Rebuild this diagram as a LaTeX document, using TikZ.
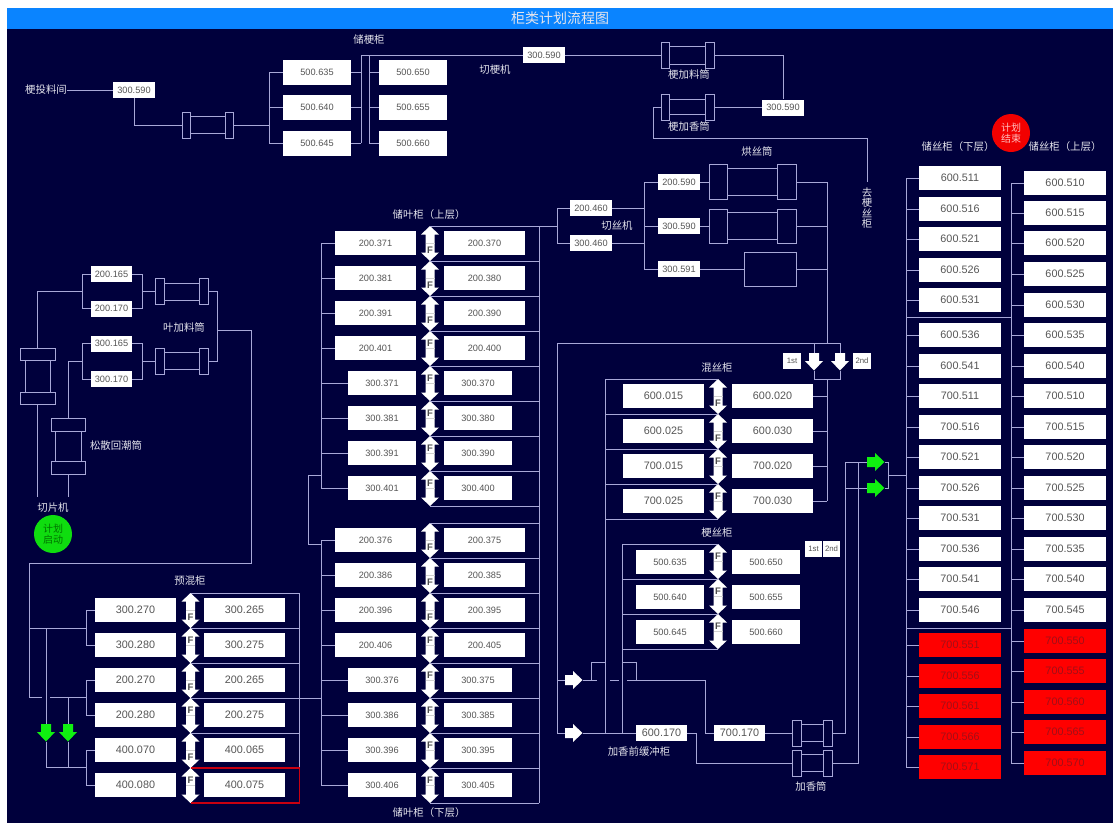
\documentclass[tikz,border=0pt]{standalone}
\usepackage{fontspec}
\setmainfont{Liberation Sans}
\newfontfamily\cjk{Noto Sans CJK SC}
\definecolor{navy}{HTML}{00003C}
\definecolor{barblue}{HTML}{0A84FF}
\definecolor{lnc}{HTML}{A8A8D8}
\definecolor{numc}{HTML}{555555}
\definecolor{labc}{HTML}{E4E4EC}
\definecolor{redtxt}{HTML}{A01018}
\definecolor{redln}{HTML}{C80010}
\definecolor{grn}{HTML}{10F010}
\tikzset{
  ln/.style={draw=lnc,line width=1pt},
  lab/.style={text=labc,inner sep=0pt,align=center,font=\cjk\fontsize{10.4}{10.6}\selectfont},
  smallbox/.style={fill=white,inner sep=0pt,text=numc,font=\fontsize{9.2}{10}\selectfont},
  midbox/.style={fill=white,inner sep=0pt,text=numc,font=\fontsize{10.8}{12}\selectfont},
  tinybox/.style={fill=white,inner sep=0pt,text=numc,font=\fontsize{7.8}{9}\selectfont},
  ftxt/.style={inner sep=0pt,text=black!70,font=\bfseries\fontsize{9.5}{10}\selectfont},
}
% style, name, x1, x2, cy, h, text
\newcommand\myBox[7]{\node[#1,minimum width={#4-#3},minimum height=#6] (#2) at ({(#3+#4)/2},#5) {#7};}
% name, x, top, F offset
\newcommand\myDbl[4]{%
  \coordinate (#1-t) at (#2,#3);
  \coordinate (#1-b) at (#2,{#3+35});
  \fill[white] (#2,#3) -- ++(9,8.5) -- ++(-4.5,0) -- ++(0,18) -- ++(4.5,0) -- ++(-9,8.5) -- ++(-9,-8.5) -- ++(4.5,0) -- ++(0,-18) -- ++(-4.5,0) -- cycle;
  \draw[black!18,line width=.7pt] ({#2-4.5},{#3+17.5}) -- ({#2+4.5},{#3+17.5});
  \node[ftxt] (#1-F) at (#2,{#3+#4}) {F};}
% name, cx, top, colour
\newcommand\myDown[4]{%
  \coordinate (#1-in) at (#2,#3);
  \coordinate (#1-out) at (#2,{#3+17.5});
  \fill[#4] ({#2-5},#3) -- ++(10,0) -- ++(0,8) -- ++(4,0) -- ++(-9,9.5) -- ++(-9,-9.5) -- ++(4,0) -- cycle;}
% name, left, cy, colour
\newcommand\myRight[4]{%
  \coordinate (#1-in) at (#2,#3);
  \coordinate (#1-out) at ({#2+17.5},#3);
  \fill[#4] (#2,{#3-5}) -- ++(0,10) -- ++(8,0) -- ++(0,4) -- ++(9.5,-9) -- ++(-9.5,-9) -- ++(0,4) -- cycle;}
% name, x1,x2,x3,x4, captop,capbot, bodytop,bodybot
\newcommand\myHDrum[9]{%
  \coordinate (#1-w) at (#2,{(#6+#7)/2});
  \coordinate (#1-e) at (#5,{(#6+#7)/2});
  \draw[ln] (#2,#6) rectangle (#3,#7);
  \draw[ln] (#4,#6) rectangle (#5,#7);
  \draw[ln] (#3,#8) -- (#4,#8) (#3,#9) -- (#4,#9);}
% name, capx1,capx2,bodyx1,bodyx2, y1,y2,y3,y4
\newcommand\myVDrum[9]{%
  \coordinate (#1-n) at ({(#2+#3)/2},#6);
  \coordinate (#1-s) at ({(#2+#3)/2},#9);
  \draw[ln] (#2,#6) rectangle (#3,#7);
  \draw[ln] (#2,#8) rectangle (#3,#9);
  \draw[ln] (#4,#7) -- (#4,#8) (#5,#7) -- (#5,#8);}
\begin{document}
\begin{tikzpicture}[x=1pt,y=-1pt]
\useasboundingbox (0,0) rectangle (1113,823);
\fill[white] (0,0) rectangle (1113,823);
\fill[navy] (7,8) rectangle (1113,823);
\fill[barblue] (7,8) rectangle (1113,28.5);
\node[text=labc,inner sep=0pt,font=\cjk\fontsize{14}{14}\selectfont] (title) at (560,18) {柜类计划流程图};

% ---- labels
\node[lab] (lTou) at (46,90) {梗投料间};
\node[lab] (lChu) at (369,40) {储梗柜};
\node[lab] (lQie) at (495,70) {切梗机};
\node[lab] (lJl) at (689,75) {梗加料筒};
\node[lab] (lJx) at (689,127) {梗加香筒};
\node[lab] (lHong) at (757,152) {烘丝筒};
\node[lab] (lQs) at (617,226) {切丝机};
\node[lab] (lQu) at (867,208) {去\\梗\\丝\\柜};
\node[lab] (lUp) at (429,215) {储叶柜（上层）};
\node[lab] (lDn) at (429,813) {储叶柜（下层）};
\node[lab] (lYe) at (184,328) {叶加料筒};
\node[lab] (lSong) at (116,446) {松散回潮筒};
\node[lab] (lQp) at (53,508) {切片机};
\node[lab] (lYu) at (190,581) {预混柜};
\node[lab] (lHun) at (717,368) {混丝柜};
\node[lab] (lGs) at (717,533) {梗丝柜};
\node[lab] (lJq) at (639,752) {加香前缓冲柜};
\node[lab] (lJt) at (811,787) {加香筒};
\node[lab] (lSl) at (958,147) {储丝柜（下层）};
\node[lab] (lSu) at (1065,147) {储丝柜（上层）};
\node[circle,fill=grn!92!black,minimum size=38pt,inner sep=0pt,text=green!45!black,align=center,font=\cjk\fontsize{10}{11}\selectfont] (cStart) at (53,534) {计划\\启动};
\node[circle,fill=red!95!black,minimum size=38pt,inner sep=0pt,text=red!25!white,align=center,font=\cjk\fontsize{10}{11}\selectfont] (cEnd) at (1011,133) {计划\\结束};

% ---- top section
\myBox{smallbox}{tA}{113}{155}{90}{16}{300.590}
\myBox{smallbox}{tB}{523}{565}{55}{16}{300.590}
\myBox{smallbox}{tC}{762}{804}{107.5}{16}{300.590}
\foreach \i/\t/\y in {1/500.635/72.5,2/500.640/107.5,3/500.645/143}{
  \myBox{smallbox}{sL\i}{283}{351}{\y}{25}{\t}}
\foreach \i/\t/\y in {1/500.650/72.5,2/500.655/107.5,3/500.660/143}{
  \myBox{smallbox}{sR\i}{379}{447}{\y}{25}{\t}}
\myHDrum{dA}{182}{190}{225}{233}{112}{138}{116.5}{133.5}
\myHDrum{dB}{661}{669}{705}{714}{42}{68}{46}{64}
\myHDrum{dC}{661}{669}{705}{714}{94.5}{120.5}{99}{114}
\coordinate (busT) at (269,125);
\coordinate (busU) at (361,55);
\coordinate (busV) at (369,55);
\coordinate (cA) at (653,138);
\draw[ln] (lTou.east) -- (tA.west);
\draw[ln] (tA.south) |- (dA-w);
\draw[ln] (dA-e) -- (busT);
\draw[ln] (sL1.west -| busT) -- (sL3.west -| busT);
\foreach \i in {1,2,3}{
  \draw[ln] (sL\i.west) -- (sL\i.west -| busT);
  \draw[ln] (sL\i.east) -- (sL\i.east -| busU);
  \draw[ln] (sR\i.west) -- (sR\i.west -| busV);}
\draw[ln] (sL3.east -| busU) -- (busU);
\draw[ln] (sR3.west -| busV) -- (busV);
\draw[ln] (busU) -- (tB.west);
\draw[ln] (tB.east) -- (dB-w);
\draw[ln] (dB-e) -| (tC.north);
\draw[ln] (tC.west) -- (dC-e);
\draw[ln,shorten >=5pt] (dC-w) -| (cA) -| (lQu.north);

% ---- leaf feed section (left)
\myBox{smallbox}{fA}{91}{132}{274}{16}{200.165}
\myBox{smallbox}{fB}{91}{132}{308.5}{16}{200.170}
\myBox{smallbox}{fC}{91}{132}{343.5}{16}{300.165}
\myBox{smallbox}{fD}{91}{132}{379}{16}{300.170}
\myHDrum{dF1}{155}{164}{199}{208}{278.5}{304.5}{283}{300}
\myHDrum{dF2}{155}{164}{199}{208}{348.5}{374.5}{352.5}{369.5}
\myVDrum{dV1}{20}{55}{25}{50}{348}{360}{392}{404}
\myVDrum{dV2}{51}{85}{55}{81}{418}{431}{461}{474}
\coordinate (busF) at (82,291.5);
\coordinate (busG) at (82,361.5);
\coordinate (busH) at (142.5,291.5);
\coordinate (busI) at (142.5,361.5);
\coordinate (busJ) at (217,330.5);
\coordinate (feedA) at (251.5,563);
\coordinate (feedB) at (29,697);
\coordinate (feedC) at (42,697);
\coordinate (endY) at (0,497);
\draw[ln] (fA.west -| busF) -- (fB.west -| busF);
\draw[ln] (fC.west -| busG) -- (fD.west -| busG);
\draw[ln] (fA.east -| busH) -- (fB.east -| busH);
\draw[ln] (fC.east -| busI) -- (fD.east -| busI);
\foreach \n in {fA,fB}{\draw[ln] (\n.west) -- (\n.west -| busF); \draw[ln] (\n.east) -- (\n.east -| busH);}
\foreach \n in {fC,fD}{\draw[ln] (\n.west) -- (\n.west -| busG); \draw[ln] (\n.east) -- (\n.east -| busI);}
\draw[ln] (busH) -- (dF1-w);
\draw[ln] (busI) -- (dF2-w);
\draw[ln] (dF1-e) -- (dF1-e -| busJ) -- (dF2-e -| busJ) -- (dF2-e);
\draw[ln] (busF) -| (dV1-n);
\draw[ln] (busG) -| (dV2-n);
\draw[ln] (dV1-s) -- (dV1-s |- endY);
\draw[ln] (dV2-s) -- (dV2-s |- endY);
\draw[ln] (busJ) -| (feedA) -- (feedA -| feedB) -- (feedB) -- (feedC);

% ---- prewet section
\foreach \i/\a/\b/\y/\f in {1/300.270/300.265/610/24,2/300.280/300.275/645/12,3/200.270/200.265/680/24,4/200.280/200.275/715/12,5/400.070/400.065/750/24,6/400.080/400.075/785/12}{
  \myBox{midbox}{pL\i}{95}{176}{\y}{24.5}{\a}
  \myBox{midbox}{pR\i}{204}{285}{\y}{24.5}{\b}
  \myDbl{pa\i}{190.5}{\the\numexpr\y-17\relax}{\f}}
\coordinate (busP) at (299.5,593);
\coordinate (busK) at (86,628);
\coordinate (busA) at (321,243);
\foreach \i in {1,...,5}{\draw[ln] (pa\i-t) -- (pa\i-t -| busP);}
\draw[ln] (busP) -- (pa6-t -| busP);
\draw[redln,line width=1.1pt] (pa6-t) -- (pa6-t -| busP) -- (pa6-b -| busP) -- (pa6-b);
\draw[ln] (pa4-t -| busP) -- (pa4-t -| busA);
\foreach \u/\v in {1/2,3/4,5/6}{
  \draw[ln] (pL\u.west -| busK) -- (pL\v.west -| busK);
  \draw[ln] (pL\u.west) -- (pL\u.west -| busK);
  \draw[ln] (pL\v.west) -- (pL\v.west -| busK);}
\coordinate (feedD) at (29,628);
\coordinate (feedE) at (50,697);
\coordinate (gJoin) at (46,767);
\coordinate (gJoinB) at (68,767);
\draw[ln] (feedD) -- (busK);
\draw[ln] (feedE) -- (feedE -| busK);
\myDown{gA}{46}{724}{grn}
\myDown{gB}{68}{724}{grn}
\draw[ln] (feedD -| gA-in) -- (gA-in);
\draw[ln] (feedE -| gB-in) -- (gB-in);
\draw[ln] (gA-out) -- (gJoin) -- (gJoin -| busK);
\draw[ln] (gB-out) -- (gJoinB);

% ---- leaf store section
\foreach \i/\a/\b/\y/\f in {1/200.371/200.370/243/24,2/200.381/200.380/278/24,3/200.391/200.390/313/24,4/200.401/200.400/348/12,9/200.376/200.375/540/24,10/200.386/200.385/575/24,11/200.396/200.395/610/24,12/200.406/200.405/645/12}{
  \myBox{smallbox}{lL\i}{335}{416}{\y}{24.5}{\a}
  \myBox{smallbox}{lR\i}{444}{525}{\y}{24.5}{\b}
  \myDbl{la\i}{430}{\the\numexpr\y-17\relax}{\f}}
\foreach \i/\a/\b/\y/\f in {5/300.371/300.370/383/12,6/300.381/300.380/418/12,7/300.391/300.390/453/12,8/300.401/300.400/488/12,13/300.376/300.375/680/12,14/300.386/300.385/715/12,15/300.396/300.395/750/12,16/300.406/300.405/785/12}{
  \myBox{smallbox}{lL\i}{348}{416}{\y}{24.5}{\a}
  \myBox{smallbox}{lR\i}{444}{512}{\y}{24.5}{\b}
  \myDbl{la\i}{430}{\the\numexpr\y-17\relax}{\f}}
\coordinate (busS) at (539,226);
\coordinate (busW) at (308,475);
\coordinate (busX) at (308,544);
\foreach \i in {1,...,16}{
  \draw[ln] (la\i-t) -- (la\i-t -| busS);
  \draw[ln] (lL\i.west) -- (lL\i.west -| busA);}
\draw[ln] (la8-b) -- (la8-b -| busS);
\draw[ln] (la16-b) -- (la16-b -| busS);
\draw[ln] (busS) -- (la16-b -| busS);
\draw[ln] (lL1.west -| busA) -- (lL8.west -| busA);
\draw[ln] (lL9.west -| busA) -- (lL16.west -| busA);
\draw[ln] (busW -| busA) -- (busW) -- (busX) -- (busX -| busA);

% ---- cut / dry section
\myBox{smallbox}{cA1}{570}{612}{208}{16}{200.460}
\myBox{smallbox}{cA2}{570}{612}{243}{16}{300.460}
\myBox{smallbox}{cB1}{658}{700}{182}{16}{200.590}
\myBox{smallbox}{cB2}{658}{700}{226}{16}{300.590}
\myBox{smallbox}{cB3}{658}{700}{269}{16}{300.591}
\myHDrum{dD}{709}{727}{777}{796}{164.5}{199.5}{168}{195}
\myHDrum{dE}{709}{727}{777}{796}{209}{243}{212.5}{239.5}
\node[ln,minimum width=52pt,minimum height=34pt,inner sep=0pt] (rF) at (770,269) {};
\coordinate (brS) at (557,226);
\coordinate (busC) at (644,226);
\coordinate (busD) at (827,343);
\coordinate (busL1) at (557,343);
\coordinate (busM) at (827,379);
\draw[ln] (la1-t -| busS) -- (brS |- la1-t);
\draw[ln] (cA1.west -| brS) -- (cA2.west -| brS);
\draw[ln] (cA1.west) -- (cA1.west -| brS);
\draw[ln] (cA2.west) -- (cA2.west -| brS);
\draw[ln] (cA1.east) -- (cA1.east -| busC);
\draw[ln] (cA2.east) -- (cA2.east -| busC);
\draw[ln] (cB1.west -| busC) -- (cB3.west -| busC);
\foreach \n in {cB1,cB2,cB3}{\draw[ln] (\n.west) -- (\n.west -| busC);}
\draw[ln] (cB1.east) -- (dD-w);
\draw[ln] (cB2.east) -- (dE-w);
\draw[ln] (cB3.east) -- (rF.west);
\draw[ln] (dD-e) -- (dD-e -| busD);
\draw[ln] (dE-e) -- (dE-e -| busD);
\draw[ln] (rF.east) -- (rF.east -| busD);
\draw[ln] (dD-e -| busD) -- (busD);

% ---- silk mix section
\myBox{tinybox}{b1st}{783}{801}{361}{16}{1st}
\myBox{tinybox}{b2nd}{853}{871}{361}{16}{2nd}
\myBox{tinybox}{c1st}{805}{822}{549}{16}{1st}
\myBox{tinybox}{c2nd}{823}{840}{549}{16}{2nd}
\myDown{wA}{814}{353}{white}
\myDown{wB}{840}{353}{white}
\draw[ln] (busL1) -- (wB-in |- busD) -- (wB-in);
\draw[ln] (wA-in |- busD) -- (wA-in);
\draw[ln] (wA-out) -- (wA-out |- busM) -- (wB-out |- busM) -- (wB-out);
\foreach \i/\a/\b/\y/\f in {1/600.015/600.020/396/24,2/600.025/600.030/431/24,3/700.015/700.020/466/12,4/700.025/700.030/501/12}{
  \myBox{midbox}{mL\i}{623}{704}{\y}{24.5}{\a}
  \myBox{midbox}{mR\i}{732}{813}{\y}{24.5}{\b}
  \myDbl{ma\i}{718}{\the\numexpr\y-17\relax}{\f}}
\foreach \i/\a/\b/\y in {1/500.635/500.650/562,2/500.640/500.655/597,3/500.645/500.660/632}{
  \myBox{smallbox}{nL\i}{636}{704}{\y}{24.5}{\a}
  \myBox{smallbox}{nR\i}{732}{800}{\y}{24.5}{\b}
  \myDbl{na\i}{718}{\the\numexpr\y-18\relax}{12}}
\coordinate (busN) at (605,379);
\coordinate (busO) at (622,544);
\coordinate (arrY) at (557,733);
\foreach \i in {1,...,4}{
  \draw[ln] (ma\i-t) -- (ma\i-t -| busN);
  \draw[ln] (mR\i.east) -- (mR\i.east -| busM);}
\draw[ln] (ma4-b) -- (ma4-b -| busN);
\draw[ln] (busM) -- (mR4.east -| busM);
\foreach \i in {1,2,3}{\draw[ln] (na\i-t) -- (na\i-t -| busO);}
\draw[ln] (na3-b) -- (na3-b -| busO);
\draw[ln] (busL1) -- (arrY);
\draw[ln] (busN) -- (busN |- arrY);
\draw[ln] (busO) -- (busO |- arrY);

% ---- bottom flow
\myBox{midbox}{bA}{636}{687}{733}{16}{600.170}
\myBox{midbox}{bB}{714}{765}{733}{16}{700.170}
\myRight{wC}{565}{680}{white}
\myRight{wD}{565}{733}{white}
\myHDrum{dG}{792}{801}{823}{832}{720}{746}{724.5}{741.5}
\myHDrum{dH}{792}{801}{823}{832}{750}{776}{754}{771}
\draw[ln] (busL1 |- wC-in) -- (wC-in);
\draw[ln] (arrY) -- (wD-in);
\draw[ln] (wD-out) -- (bA.west);
\coordinate (jA) at (596.5,680);
\coordinate (jB) at (591.5,662);
\coordinate (jC) at (636,662);
\coordinate (jD) at (627,680);
\coordinate (jE) at (705.5,680);
\coordinate (jF) at (696.5,763);
\coordinate (jG) at (610,680);
\coordinate (jH) at (618.5,680);
\draw[ln] (wC-out) -- (jA);
\draw[ln] (jB |- jA) -- (jB) -- (jB -| busN);
\draw[ln] (jG) -- (jH);
\draw[ln] (jB -| busO) -- (jC) -- (jC |- jA);
\draw[ln] (jD) -- (jE) |- (bB.west);
\draw[ln] (bA.east) -| (jF) -- (dH-w);
\draw[ln] (bB.east) -- (dG-w);
\myRight{gC}{867}{462}{grn}
\myRight{gD}{867}{488}{grn}
\coordinate (busQ) at (845,462);
\coordinate (busR) at (858,462);
\coordinate (busE) at (888,475);
\coordinate (busL) at (906,475);
\coordinate (busY) at (1011,475);
\draw[ln] (dG-e) -| (busQ) -- (gC-in);
\draw[ln] (dH-e) -| (busR);
\draw[ln] (busQ |- gD-in) -- (gD-in);
\draw[ln] (gC-out) -- (gC-out -| busE) -- (gD-out -| busE) -- (gD-out);
\draw[ln] (busE) -- (busL);

% ---- silk store section
\foreach \i/\t/\y in {1/600.511/178,2/600.516/209,3/600.521/239,4/600.526/270,5/600.531/300,6/600.536/335,7/600.541/366,8/700.511/396,9/700.516/427,10/700.521/457,11/700.526/488,12/700.531/518,13/700.536/549,14/700.541/579,15/700.546/610}{
  \myBox{midbox}{qL\i}{919}{1001}{\y}{24.5}{\t}}
\foreach \i/\t/\y in {16/700.551/645,17/700.556/676,18/700.561/706,19/700.566/737,20/700.571/767}{
  \myBox{midbox,fill=red,text=redtxt}{qL\i}{919}{1001}{\y}{24.5}{\t}}
\foreach \i/\t/\y in {1/600.510/183,2/600.515/213,3/600.520/243,4/600.525/274,5/600.530/305,6/600.535/335,7/600.540/366,8/700.510/396,9/700.515/427,10/700.520/457,11/700.525/488,12/700.530/518,13/700.535/549,14/700.540/579,15/700.545/610}{
  \myBox{midbox}{qR\i}{1024}{1106}{\y}{24.5}{\t}}
\foreach \i/\t/\y in {16/700.550/641,17/700.555/671,18/700.560/702,19/700.565/732,20/700.570/763}{
  \myBox{midbox,fill=red,text=redtxt}{qR\i}{1024}{1106}{\y}{24.5}{\t}}
\foreach \i in {1,...,20}{
  \draw[ln] (qL\i.west) -- (qL\i.west -| busL);
  \draw[ln] (qR\i.west) -- (qR\i.west -| busY);}
\draw[ln] (qL1.west -| busL) -- (qL20.west -| busL);
\draw[ln] (qR1.west -| busY) -- (qR20.west -| busY);
\coordinate (crossA) at (906,317);
\coordinate (crossB) at (906,628);
\draw[ln] (crossA) -- (crossA -| busY);
\draw[ln] (crossB) -- (crossB -| busY);
\end{tikzpicture}
\end{document}
